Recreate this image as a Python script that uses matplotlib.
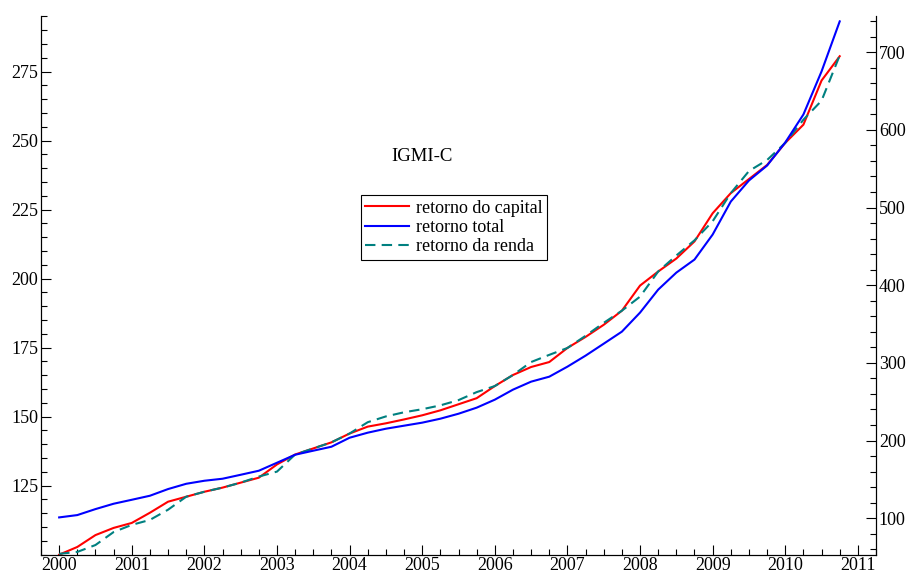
import numpy as np
import matplotlib.pyplot as plt
from matplotlib.ticker import MultipleLocator

# quarterly series, 2000Q1 .. 2010Q4
capital = [100.0, 102.8, 107.1, 109.7, 111.5, 115.2, 119.2, 121.0, 122.8, 124.3,
           126.1, 127.9, 132.7, 136.3, 138.5, 140.7, 143.9, 146.4, 147.6, 149.0,
           150.5, 152.3, 154.5, 156.7, 161.1, 165.1, 168.0, 169.8, 174.9, 178.9,
           183.3, 188.4, 197.5, 202.6, 207.3, 213.5, 223.7, 231.0, 236.1, 241.2,
           249.2, 255.8, 271.8, 280.6]
total = [101.0, 104.0, 111.7, 118.6, 123.7, 128.9, 137.5, 144.3, 148.2, 150.8,
         155.9, 161.1, 171.4, 181.7, 186.9, 192.0, 203.6, 210.1, 215.2, 219.1,
         223.0, 228.1, 234.5, 242.3, 252.6, 265.5, 275.8, 282.2, 295.1, 309.3,
         324.7, 340.2, 364.7, 394.3, 416.2, 433.0, 465.2, 507.7, 534.8, 554.1,
         583.8, 619.8, 675.3, 739.7]
renda = [100.3, 101.0, 103.5, 108.2, 110.8, 112.6, 116.3, 121.0, 122.8, 124.3,
         126.1, 128.3, 130.1, 136.3, 138.5, 140.7, 143.9, 148.0, 150.1, 151.6,
         152.7, 154.1, 156.0, 158.9, 161.1, 165.1, 169.8, 172.4, 174.9, 179.3,
         184.0, 188.4, 193.5, 202.6, 208.4, 213.9, 220.8, 231.0, 239.0, 243.0,
         249.2, 257.6, 264.5, 280.9]
t = 2000 + np.arange(len(capital)) / 4.0

plt.rcParams['font.family'] = ['Liberation Serif', 'DejaVu Serif']
plt.rcParams['font.size'] = 13

fig = plt.figure(figsize=(9.13, 5.76), dpi=100)
ax = fig.add_axes([0.0449, 0.037, 0.9146, 0.9344])
ax2 = ax.twinx()

l1, = ax.plot(t, capital, color='#ff0000', lw=1.5, label='retorno do capital')
l3, = ax.plot(t, renda, color='#008080', lw=1.5, ls=(0, (5, 3)), label='retorno da renda')
l2, = ax2.plot(t, total, color='#0000ff', lw=1.5, label='retorno total')

ax.set_xlim(1999.75, 2011.25)
ax.set_ylim(100, 295)
ax2.set_ylim(53, 746)

ax.set_xticks(range(2000, 2012))
ax.xaxis.set_minor_locator(MultipleLocator(0.25))
ax.yaxis.set_minor_locator(MultipleLocator(5))
ax.set_yticks([125, 150, 175, 200, 225, 250, 275])
ax2.yaxis.set_minor_locator(MultipleLocator(20))
ax2.set_yticks([100, 200, 300, 400, 500, 600, 700])

for a in (ax, ax2):
    a.spines['top'].set_visible(False)
    for s in a.spines.values():
        s.set_linewidth(0.8)
    a.tick_params(which='both', direction='in', width=0.8, labelsize=13, pad=2)
    a.tick_params(which='major', length=7)
    a.tick_params(which='minor', length=4)

ax.text(0.456, 0.739, 'IGMI-C', transform=ax.transAxes, ha='center', va='center', fontsize=13.5)
leg = ax.legend([l1, l2, l3], [l1.get_label(), l2.get_label(), l3.get_label()],
                loc='upper left', bbox_to_anchor=(0.383, 0.668), fontsize=13,
                frameon=True, fancybox=False, edgecolor='black', framealpha=1,
                borderpad=0.25, labelspacing=0.12, handlelength=2.4, handletextpad=0.4,
                borderaxespad=0)
leg.get_frame().set_linewidth(0.8)

fig.savefig('out.png', dpi=100)
